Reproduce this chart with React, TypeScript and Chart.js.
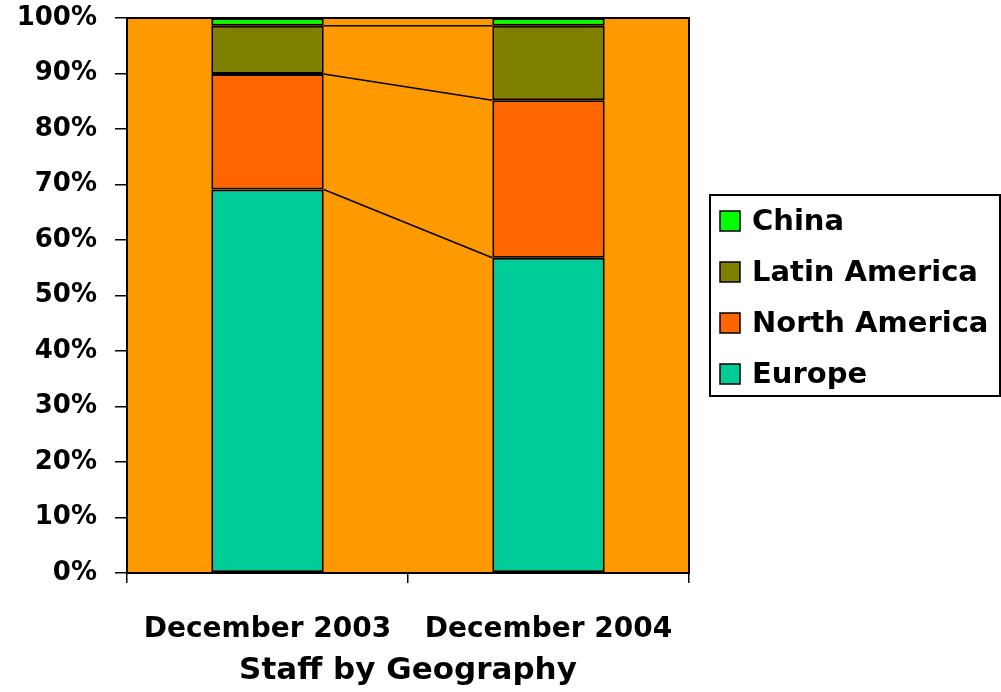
import { useEffect, useRef } from 'react';
import { Chart, registerables } from 'chart.js';

Chart.register(...registerables);

const categories = ['December 2003', 'December 2004'];
const europe = [69.1, 56.8];
const northAmerica = [20.8, 28.4];
const latinAmerica = [8.7, 13.4];
const china = [1.4, 1.4];
const yTicks = [0, 10, 20, 30, 40, 50, 60, 70, 80, 90, 100];

const FONT = '"DejaVu Sans", sans-serif';

// orange plot background + black frame around the plot area
const plotFrame = {
  id: 'plotFrame',
  beforeDatasetsDraw(chart: Chart) {
    const { ctx, chartArea: a } = chart;
    ctx.save();
    ctx.fillStyle = '#FF9900';
    ctx.fillRect(a.left, a.top, a.right - a.left, a.bottom - a.top);
    ctx.restore();
  },
  afterDatasetsDraw(chart: Chart) {
    const { ctx, chartArea: a } = chart;
    ctx.save();
    ctx.strokeStyle = '#000';
    ctx.lineWidth = 2;
    ctx.strokeRect(a.left, a.top, a.right - a.left, a.bottom - a.top);
    ctx.restore();
  },
};

// Excel style series lines joining the segment tops of neighbouring bars
const seriesLines = {
  id: 'seriesLines',
  afterDatasetsDraw(chart: Chart) {
    const { ctx } = chart;
    ctx.save();
    ctx.strokeStyle = '#000';
    ctx.lineWidth = 1.5;
    for (let i = 0; i < chart.data.datasets.length - 1; i++) {
      const els = chart.getDatasetMeta(i).data as any[];
      for (let j = 0; j < els.length - 1; j++) {
        const a = els[j];
        const b = els[j + 1];
        ctx.beginPath();
        ctx.moveTo(a.x + a.width / 2, a.y);
        ctx.lineTo(b.x - b.width / 2, b.y);
        ctx.stroke();
      }
    }
    ctx.restore();
  },
};

// boxed legend on the right, top series first
const boxLegend = {
  id: 'boxLegend',
  afterDraw(chart: Chart) {
    const { ctx, chartArea } = chart;
    const left = chartArea.right + 21;
    const right = chart.width - 1;
    const top = 195;
    const rowH = 51;
    const sets = [...chart.data.datasets].reverse();
    const bottom = top + 26 + rowH * (sets.length - 1) + 22;
    ctx.save();
    ctx.fillStyle = '#fff';
    ctx.fillRect(left, top, right - left, bottom - top);
    ctx.strokeStyle = '#000';
    ctx.lineWidth = 2;
    ctx.strokeRect(left, top, right - left, bottom - top);
    ctx.font = `bold 29px ${FONT}`;
    ctx.textBaseline = 'middle';
    ctx.textAlign = 'left';
    sets.forEach((ds, i) => {
      const cy = top + 26 + i * rowH;
      ctx.fillStyle = ds.backgroundColor as string;
      ctx.fillRect(left + 10, cy - 10, 20, 20);
      ctx.lineWidth = 1.5;
      ctx.strokeRect(left + 10, cy - 10, 20, 20);
      ctx.fillStyle = '#000';
      ctx.fillText(ds.label as string, left + 42, cy + 1);
    });
    ctx.restore();
  },
};

export default function App() {
  const canvasRef = useRef<HTMLCanvasElement>(null);

  useEffect(() => {
    if (!canvasRef.current) return;
    const bar = (label: string, data: number[], color: string) => ({
      label,
      data,
      backgroundColor: color,
      borderColor: '#000',
      borderWidth: 2,
      borderSkipped: false as const,
      barPercentage: 0.4,
      categoryPercentage: 1,
    });
    const chart = new Chart(canvasRef.current, {
      type: 'bar',
      data: {
        labels: categories,
        datasets: [
          bar('Europe', europe, '#00CC99'),
          bar('North America', northAmerica, '#FF6600'),
          bar('Latin America', latinAmerica, '#808000'),
          bar('China', china, '#00FF00'),
        ],
      },
      options: {
        responsive: false,
        animation: false,
        layout: { padding: { top: 18, left: 0, right: 312, bottom: 0 } },
        plugins: {
          tooltip: { enabled: false },
          legend: { display: false },
        },
        scales: {
          x: {
            stacked: true,
            afterFit: (axis) => {
              axis.height = 119;
            },
            grid: { offset: true, drawOnChartArea: false, color: '#000', tickLength: 10, lineWidth: 1.5 },
            border: { display: true, color: '#000', width: 2 },
            ticks: { color: '#000', font: { family: FONT, size: 28, weight: 'bold' }, padding: 30 },
            title: {
              display: true,
              text: 'Staff by Geography',
              color: '#000',
              font: { family: FONT, size: 31, weight: 'bold' },
              padding: { top: 0, bottom: 2 },
            },
          },
          y: {
            stacked: true,
            min: 0,
            max: 100,
            afterFit: (axis) => {
              axis.width = 127;
              axis.paddingTop = 0;
              axis.paddingBottom = 0;
            },
            afterBuildTicks: (axis) => {
              axis.ticks = yTicks.map((v) => ({ value: v }));
            },
            grid: { drawOnChartArea: false, color: '#000', tickLength: 12, lineWidth: 1.5 },
            border: { display: true, color: '#000', width: 2 },
            ticks: {
              color: '#000',
              font: { family: FONT, size: 26, weight: 'bold' },
              padding: 18,
              callback: (v) => v + '%',
            },
          },
        },
      },
      plugins: [plotFrame, seriesLines, boxLegend],
    });
    return () => chart.destroy();
  }, []);

  return (
    <div style={{ position: 'absolute', left: 0, top: 0, width: 1001, height: 692, background: '#fff' }}>
      <canvas ref={canvasRef} width={1001} height={692} />
    </div>
  );
}
